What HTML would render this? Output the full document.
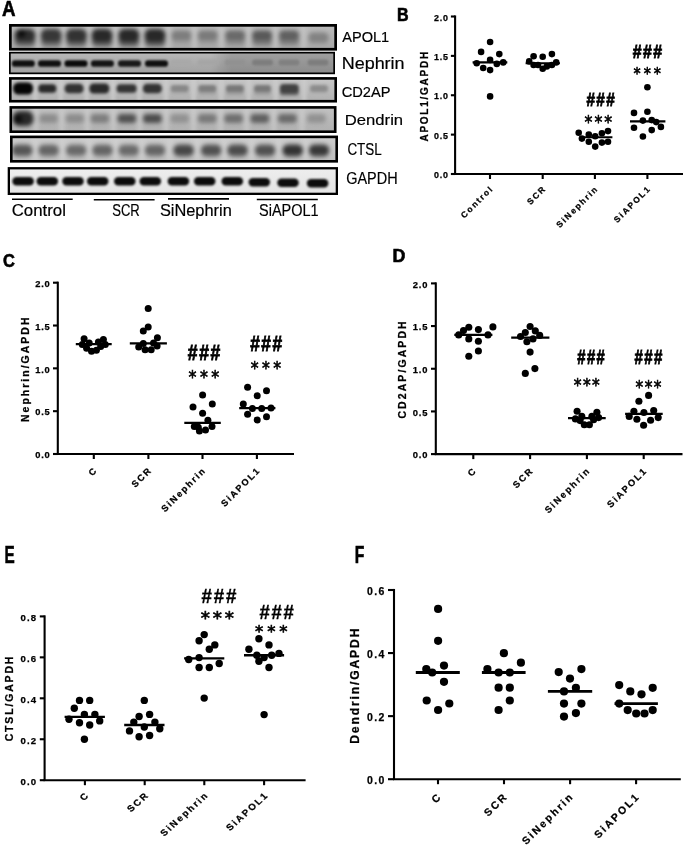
<!DOCTYPE html>
<html><head><meta charset="utf-8"><title>Figure</title>
<style>
html,body{margin:0;padding:0;background:#fff;}
svg{display:block;}
text{font-family:"Liberation Sans", Arial, sans-serif;fill:#000;}
.s{stroke:#000;stroke-width:0.25px;}
.l{stroke:#000;stroke-width:0.18px;}
.p{stroke:#000;stroke-width:0.6px;}
.h{font-family:'Liberation Sans',Arial,sans-serif;stroke:#000;stroke-width:0.85px;}
.a{font-family:'DejaVu Sans',sans-serif;stroke:#000;stroke-width:0.65px;}
</style></head><body>
<svg width="685" height="846" viewBox="0 0 685 846">
<rect width="685" height="846" fill="#fff"/>
<clipPath id="c1"><rect x="9" y="24" width="328" height="26.6"/></clipPath>
<filter id="fb1" x="-20%" y="-50%" width="140%" height="200%" color-interpolation-filters="sRGB"><feGaussianBlur stdDeviation="2.1"/></filter>
<linearGradient id="g1" x1="0" x2="0" y1="0" y2="1"><stop offset="0" stop-color="#bcbcbc"/><stop offset="1" stop-color="#a8a8a8"/></linearGradient>
<g clip-path="url(#c1)">
<rect x="9" y="24" width="328" height="26.6" fill="url(#g1)"/>
<g filter="url(#fb1)">
<rect x="35.6" y="24" width="5" height="26.6" fill="#c8c8c8" opacity="0.7"/>
<rect x="61.3" y="24" width="5" height="26.6" fill="#c8c8c8" opacity="0.7"/>
<rect x="86.7" y="24" width="5" height="26.6" fill="#c8c8c8" opacity="0.7"/>
<rect x="112.9" y="24" width="5" height="26.6" fill="#c8c8c8" opacity="0.7"/>
<rect x="139.4" y="24" width="5" height="26.6" fill="#c8c8c8" opacity="0.7"/>
<rect x="165.7" y="24" width="5" height="26.6" fill="#c8c8c8" opacity="0.7"/>
<rect x="192.05" y="24" width="5" height="26.6" fill="#c8c8c8" opacity="0.7"/>
<rect x="218.95" y="24" width="5" height="26.6" fill="#c8c8c8" opacity="0.7"/>
<rect x="246.15" y="24" width="5" height="26.6" fill="#c8c8c8" opacity="0.7"/>
<rect x="273.05" y="24" width="5" height="26.6" fill="#c8c8c8" opacity="0.7"/>
<rect x="301.25" y="24" width="5" height="26.6" fill="#c8c8c8" opacity="0.7"/>
<rect x="14.5" y="35.5" width="21" height="11" rx="5" fill="#646464"/>
<rect x="14.5" y="29" width="21" height="13" rx="5.91" fill="#2d2d2d"/>
<rect x="40.7" y="35.5" width="21" height="11" rx="5" fill="#6e6e6e"/>
<rect x="40.7" y="29" width="21" height="13" rx="5.91" fill="#373737"/>
<rect x="65.9" y="35.5" width="21" height="11" rx="5" fill="#696969"/>
<rect x="65.9" y="29" width="21" height="13" rx="5.91" fill="#323232"/>
<rect x="91.5" y="35.5" width="21" height="11" rx="5" fill="#5f5f5f"/>
<rect x="91.5" y="29" width="21" height="13" rx="5.91" fill="#282828"/>
<rect x="118.3" y="35.5" width="21" height="11" rx="5" fill="#5f5f5f"/>
<rect x="118.3" y="29" width="21" height="13" rx="5.91" fill="#282828"/>
<rect x="144.5" y="35.5" width="21" height="11" rx="5" fill="#5f5f5f"/>
<rect x="144.5" y="29" width="21" height="13" rx="5.91" fill="#282828"/>
<rect x="171.4" y="35.5" width="20" height="10" rx="4.55" fill="#a0a0a0"/>
<rect x="171.4" y="30.5" width="20" height="10" rx="4.55" fill="#7d7d7d"/>
<rect x="197.7" y="35.5" width="20" height="10" rx="4.55" fill="#9d9d9d"/>
<rect x="197.7" y="30.5" width="20" height="10" rx="4.55" fill="#7a7a7a"/>
<rect x="225.2" y="35.5" width="20" height="10" rx="4.55" fill="#8c8c8c"/>
<rect x="225.2" y="30.5" width="20" height="10" rx="4.55" fill="#696969"/>
<rect x="252.1" y="35.5" width="20" height="10" rx="4.55" fill="#7b7b7b"/>
<rect x="252.1" y="30.5" width="20" height="10" rx="4.55" fill="#585858"/>
<rect x="279" y="35.5" width="20" height="10" rx="4.55" fill="#828282"/>
<rect x="279" y="30.5" width="20" height="10" rx="4.55" fill="#5f5f5f"/>
<rect x="308.5" y="35.5" width="20" height="10" rx="4.55" fill="#a5a5a5"/>
<rect x="308.5" y="32.5" width="20" height="10" rx="4.55" fill="#828282"/>
<circle cx="21.5" cy="33.5" r="3.8" fill="#0a0a0a"/>
</g>
</g>
<rect x="10.35" y="25.35" width="325.3" height="23.9" fill="none" stroke="#000" stroke-width="2.7"/>
<linearGradient id="nh" x1="0" x2="1" y1="0" y2="0"><stop offset="0" stop-color="#000" stop-opacity="0"/><stop offset="0.62" stop-color="#000" stop-opacity="0"/><stop offset="0.68" stop-color="#000" stop-opacity="0.13"/><stop offset="1" stop-color="#000" stop-opacity="0.13"/></linearGradient>
<clipPath id="c2"><rect x="9" y="51.8" width="326" height="22.4"/></clipPath>
<filter id="fb2" x="-20%" y="-50%" width="140%" height="200%" color-interpolation-filters="sRGB"><feGaussianBlur stdDeviation="1.1"/></filter>
<linearGradient id="g2" x1="0" x2="0" y1="0" y2="1"><stop offset="0" stop-color="#b9b9b9"/><stop offset="1" stop-color="#a0a0a0"/></linearGradient>
<g clip-path="url(#c2)">
<rect x="9" y="51.8" width="326" height="22.4" fill="url(#g2)"/>
<g filter="url(#fb2)">
<rect x="9" y="51" width="326" height="23" fill="url(#nh)"/>
<rect x="11.8" y="60.35" width="23" height="6.5" rx="3.1" fill="#0f0f0f"/>
<rect x="38" y="60.35" width="23" height="6.5" rx="3.1" fill="#0f0f0f"/>
<rect x="64.5" y="60.35" width="23" height="6.5" rx="3.1" fill="#0a0a0a"/>
<rect x="90.9" y="60.35" width="23" height="6.5" rx="3.1" fill="#141414"/>
<rect x="118" y="60.35" width="23" height="6.5" rx="3.1" fill="#191919"/>
<rect x="145" y="60.35" width="23" height="6.5" rx="3.1" fill="#0f0f0f"/>
<rect x="170.5" y="59.5" width="21" height="6" rx="3" fill="#a8a8a8"/>
<rect x="197.5" y="59.5" width="21" height="6" rx="3" fill="#a5a5a5"/>
<rect x="224.5" y="59.5" width="21" height="6" rx="3" fill="#919191"/>
<rect x="252" y="59.5" width="21" height="6" rx="3" fill="#7d7d7d"/>
<rect x="278.5" y="59.5" width="21" height="6" rx="3" fill="#808080"/>
<rect x="307.5" y="59.5" width="21" height="6" rx="3" fill="#7d7d7d"/>
</g>
</g>
<rect x="9.85" y="52.65" width="324.3" height="20.7" fill="none" stroke="#000" stroke-width="1.7"/>
<clipPath id="c3"><rect x="9" y="77.1" width="328" height="25.4"/></clipPath>
<filter id="fb3" x="-20%" y="-50%" width="140%" height="200%" color-interpolation-filters="sRGB"><feGaussianBlur stdDeviation="1.5"/></filter>
<linearGradient id="g3" x1="0" x2="0" y1="0" y2="1"><stop offset="0" stop-color="#c8c8c8"/><stop offset="1" stop-color="#afafaf"/></linearGradient>
<g clip-path="url(#c3)">
<rect x="9" y="77.1" width="328" height="25.4" fill="url(#g3)"/>
<g filter="url(#fb3)">
<rect x="32.7" y="77.1" width="5" height="25.4" fill="#cdcdcd" opacity="0.7"/>
<rect x="58.2" y="77.1" width="5" height="25.4" fill="#cdcdcd" opacity="0.7"/>
<rect x="84.2" y="77.1" width="5" height="25.4" fill="#cdcdcd" opacity="0.7"/>
<rect x="110.45" y="77.1" width="5" height="25.4" fill="#cdcdcd" opacity="0.7"/>
<rect x="137" y="77.1" width="5" height="25.4" fill="#cdcdcd" opacity="0.7"/>
<rect x="163.55" y="77.1" width="5" height="25.4" fill="#cdcdcd" opacity="0.7"/>
<rect x="191" y="77.1" width="5" height="25.4" fill="#cdcdcd" opacity="0.7"/>
<rect x="218.6" y="77.1" width="5" height="25.4" fill="#cdcdcd" opacity="0.7"/>
<rect x="246.2" y="77.1" width="5" height="25.4" fill="#cdcdcd" opacity="0.7"/>
<rect x="273.4" y="77.1" width="5" height="25.4" fill="#cdcdcd" opacity="0.7"/>
<rect x="301.65" y="77.1" width="5" height="25.4" fill="#cdcdcd" opacity="0.7"/>
<rect x="13.1" y="82.5" width="20" height="12" rx="5.45" fill="#050505"/>
<rect x="38.3" y="84.25" width="18" height="8.5" rx="3.86" fill="#282828"/>
<rect x="64.6" y="83.75" width="19" height="9.5" rx="4.32" fill="#323232"/>
<rect x="89.3" y="83.5" width="20" height="10" rx="4.55" fill="#282828"/>
<rect x="116.6" y="84.25" width="20" height="8.5" rx="3.86" fill="#323232"/>
<rect x="142.9" y="83.75" width="19" height="9.5" rx="4.32" fill="#323232"/>
<rect x="170.7" y="88.5" width="18" height="7" rx="3.18" fill="#afafaf"/>
<rect x="170.7" y="85" width="18" height="7" rx="3.18" fill="#878787"/>
<rect x="198.3" y="88.5" width="18" height="7" rx="3.18" fill="#a5a5a5"/>
<rect x="198.3" y="85" width="18" height="7" rx="3.18" fill="#7d7d7d"/>
<rect x="225.9" y="88.5" width="18" height="7" rx="3.18" fill="#a0a0a0"/>
<rect x="225.9" y="85" width="18" height="7" rx="3.18" fill="#787878"/>
<rect x="254" y="88.5" width="17" height="7" rx="3.18" fill="#a0a0a0"/>
<rect x="254" y="85" width="17" height="7" rx="3.18" fill="#787878"/>
<rect x="279.8" y="88.5" width="19" height="7" rx="3.18" fill="#696969"/>
<rect x="279.8" y="84" width="19" height="9" rx="4.09" fill="#414141"/>
<rect x="310" y="88.5" width="18" height="7" rx="3.18" fill="#b4b4b4"/>
<rect x="310" y="85" width="18" height="7" rx="3.18" fill="#8c8c8c"/>
</g>
</g>
<rect x="10.3" y="78.4" width="325.4" height="22.8" fill="none" stroke="#000" stroke-width="2.6"/>
<clipPath id="c4"><rect x="9.5" y="106.1" width="327" height="26.9"/></clipPath>
<filter id="fb4" x="-20%" y="-50%" width="140%" height="200%" color-interpolation-filters="sRGB"><feGaussianBlur stdDeviation="1.9"/></filter>
<linearGradient id="g4" x1="0" x2="0" y1="0" y2="1"><stop offset="0" stop-color="#c3c3c3"/><stop offset="1" stop-color="#afafaf"/></linearGradient>
<g clip-path="url(#c4)">
<rect x="9.5" y="106.1" width="327" height="26.9" fill="url(#g4)"/>
<g filter="url(#fb4)">
<rect x="33.35" y="106.1" width="5" height="26.9" fill="#cdcdcd" opacity="0.7"/>
<rect x="59.25" y="106.1" width="5" height="26.9" fill="#cdcdcd" opacity="0.7"/>
<rect x="84.85" y="106.1" width="5" height="26.9" fill="#cdcdcd" opacity="0.7"/>
<rect x="110.85" y="106.1" width="5" height="26.9" fill="#cdcdcd" opacity="0.7"/>
<rect x="137.15" y="106.1" width="5" height="26.9" fill="#cdcdcd" opacity="0.7"/>
<rect x="163.55" y="106.1" width="5" height="26.9" fill="#cdcdcd" opacity="0.7"/>
<rect x="191" y="106.1" width="5" height="26.9" fill="#cdcdcd" opacity="0.7"/>
<rect x="217.95" y="106.1" width="5" height="26.9" fill="#cdcdcd" opacity="0.7"/>
<rect x="244.2" y="106.1" width="5" height="26.9" fill="#cdcdcd" opacity="0.7"/>
<rect x="271.1" y="106.1" width="5" height="26.9" fill="#cdcdcd" opacity="0.7"/>
<rect x="299.35" y="106.1" width="5" height="26.9" fill="#cdcdcd" opacity="0.7"/>
<rect x="12.6" y="111" width="21" height="15" rx="6.82" fill="#282828"/>
<circle cx="18" cy="119" r="4" fill="#0a0a0a"/>
<rect x="39.1" y="114" width="19" height="9" rx="4.09" fill="#8c8c8c"/>
<rect x="65.4" y="114" width="19" height="9" rx="4.09" fill="#8c8c8c"/>
<rect x="90.3" y="114" width="19" height="9" rx="4.09" fill="#7d7d7d"/>
<rect x="117.4" y="114" width="19" height="9" rx="4.09" fill="#505050"/>
<rect x="142.9" y="114" width="19" height="9" rx="4.09" fill="#4b4b4b"/>
<rect x="170.2" y="114" width="19" height="9" rx="4.09" fill="#919191"/>
<rect x="197.8" y="114" width="19" height="9" rx="4.09" fill="#787878"/>
<rect x="224.1" y="114" width="19" height="9" rx="4.09" fill="#6e6e6e"/>
<rect x="250.3" y="114" width="19" height="9" rx="4.09" fill="#5f5f5f"/>
<rect x="277.9" y="114" width="19" height="9" rx="4.09" fill="#696969"/>
<rect x="306.8" y="114" width="19" height="9" rx="4.09" fill="#919191"/>
</g>
</g>
<rect x="10.8" y="107.4" width="324.4" height="24.3" fill="none" stroke="#000" stroke-width="2.6"/>
<clipPath id="c5"><rect x="10" y="135.6" width="328" height="27"/></clipPath>
<filter id="fb5" x="-20%" y="-50%" width="140%" height="200%" color-interpolation-filters="sRGB"><feGaussianBlur stdDeviation="2.0"/></filter>
<linearGradient id="g5" x1="0" x2="0" y1="0" y2="1"><stop offset="0" stop-color="#cdcdcd"/><stop offset="1" stop-color="#bebebe"/></linearGradient>
<g clip-path="url(#c5)">
<rect x="10" y="135.6" width="328" height="27" fill="url(#g5)"/>
<g filter="url(#fb5)">
<rect x="32.95" y="135.6" width="5" height="27" fill="#d2d2d2" opacity="0.7"/>
<rect x="59.9" y="135.6" width="5" height="27" fill="#d2d2d2" opacity="0.7"/>
<rect x="86.85" y="135.6" width="5" height="27" fill="#d2d2d2" opacity="0.7"/>
<rect x="113.1" y="135.6" width="5" height="27" fill="#d2d2d2" opacity="0.7"/>
<rect x="139.35" y="135.6" width="5" height="27" fill="#d2d2d2" opacity="0.7"/>
<rect x="166.8" y="135.6" width="5" height="27" fill="#d2d2d2" opacity="0.7"/>
<rect x="194.9" y="135.6" width="5" height="27" fill="#d2d2d2" opacity="0.7"/>
<rect x="221.85" y="135.6" width="5" height="27" fill="#d2d2d2" opacity="0.7"/>
<rect x="248.8" y="135.6" width="5" height="27" fill="#d2d2d2" opacity="0.7"/>
<rect x="276.4" y="135.6" width="5" height="27" fill="#d2d2d2" opacity="0.7"/>
<rect x="303.35" y="135.6" width="5" height="27" fill="#d2d2d2" opacity="0.7"/>
<rect x="12.3" y="144" width="20" height="13" rx="5.91" fill="#828282"/>
<rect x="12.3" y="145.8" width="20" height="9" rx="4.09" fill="#555555"/>
<rect x="38.6" y="144" width="20" height="13" rx="5.91" fill="#919191"/>
<rect x="38.6" y="145.8" width="20" height="9" rx="4.09" fill="#646464"/>
<rect x="66.2" y="144" width="20" height="13" rx="5.91" fill="#969696"/>
<rect x="66.2" y="145.8" width="20" height="9" rx="4.09" fill="#696969"/>
<rect x="92.5" y="144" width="20" height="13" rx="5.91" fill="#919191"/>
<rect x="92.5" y="145.8" width="20" height="9" rx="4.09" fill="#646464"/>
<rect x="118.7" y="144" width="20" height="13" rx="5.91" fill="#969696"/>
<rect x="118.7" y="145.8" width="20" height="9" rx="4.09" fill="#696969"/>
<rect x="145" y="144" width="20" height="13" rx="5.91" fill="#919191"/>
<rect x="145" y="145.8" width="20" height="9" rx="4.09" fill="#646464"/>
<rect x="173.6" y="144" width="20" height="13" rx="5.91" fill="#737373"/>
<rect x="173.6" y="145.8" width="20" height="9" rx="4.09" fill="#464646"/>
<rect x="201.2" y="144" width="20" height="13" rx="5.91" fill="#7d7d7d"/>
<rect x="201.2" y="145.8" width="20" height="9" rx="4.09" fill="#505050"/>
<rect x="227.5" y="144" width="20" height="13" rx="5.91" fill="#787878"/>
<rect x="227.5" y="145.8" width="20" height="9" rx="4.09" fill="#4b4b4b"/>
<rect x="255.1" y="144" width="20" height="13" rx="5.91" fill="#7d7d7d"/>
<rect x="255.1" y="145.8" width="20" height="9" rx="4.09" fill="#505050"/>
<rect x="282.7" y="144" width="20" height="13" rx="5.91" fill="#5f5f5f"/>
<rect x="282.7" y="145.8" width="20" height="9" rx="4.09" fill="#323232"/>
<rect x="309" y="144" width="20" height="13" rx="5.91" fill="#646464"/>
<rect x="309" y="145.8" width="20" height="9" rx="4.09" fill="#373737"/>
</g>
</g>
<rect x="11.3" y="136.9" width="325.4" height="24.4" fill="none" stroke="#000" stroke-width="2.6"/>
<clipPath id="c6"><rect x="7.7" y="167.1" width="330.3" height="27.9"/></clipPath>
<filter id="fb6" x="-20%" y="-50%" width="140%" height="200%" color-interpolation-filters="sRGB"><feGaussianBlur stdDeviation="1.0"/></filter>
<linearGradient id="g6" x1="0" x2="0" y1="0" y2="1"><stop offset="0" stop-color="#eeeeee"/><stop offset="1" stop-color="#e4e4e4"/></linearGradient>
<g clip-path="url(#c6)">
<rect x="7.7" y="167.1" width="330.3" height="27.9" fill="url(#g6)"/>
<g filter="url(#fb6)">
<rect x="12.35" y="177" width="21.5" height="8.6" rx="4.2" fill="#0c0c0c"/>
<rect x="36.55" y="177" width="21.5" height="8.6" rx="4.2" fill="#0c0c0c"/>
<rect x="62.25" y="177" width="21.5" height="8.6" rx="4.2" fill="#0c0c0c"/>
<rect x="86.95" y="177" width="21.5" height="8.6" rx="4.2" fill="#0c0c0c"/>
<rect x="114.05" y="177" width="21.5" height="8.6" rx="4.2" fill="#0c0c0c"/>
<rect x="139.55" y="177" width="21.5" height="8.6" rx="4.2" fill="#0c0c0c"/>
<rect x="167.65" y="177" width="21.5" height="8.6" rx="4.2" fill="#0c0c0c"/>
<rect x="193.95" y="177" width="21.5" height="8.6" rx="4.2" fill="#0c0c0c"/>
<rect x="221.55" y="177" width="21.5" height="8.6" rx="4.2" fill="#0c0c0c"/>
<rect x="248.55" y="177.9" width="21.5" height="8.6" rx="4.2" fill="#0c0c0c"/>
<rect x="277.25" y="178.5" width="21.5" height="8.6" rx="4.2" fill="#0c0c0c"/>
<rect x="306.85" y="179" width="21.5" height="8.6" rx="4.2" fill="#0c0c0c"/>
</g>
</g>
<rect x="8.85" y="168.25" width="328" height="25.6" fill="none" stroke="#000" stroke-width="2.3"/>
<text x="342.2" y="42.4" font-size="15" textLength="47" lengthAdjust="spacingAndGlyphs" class="l">APOL1</text>
<text x="341.7" y="69" font-size="16" textLength="62.9" lengthAdjust="spacingAndGlyphs" class="l">Nephrin</text>
<text x="341.7" y="96.5" font-size="14.5" textLength="48.9" lengthAdjust="spacingAndGlyphs" class="l">CD2AP</text>
<text x="344.8" y="125" font-size="15.5" textLength="58.3" lengthAdjust="spacingAndGlyphs" class="l">Dendrin</text>
<text x="347.4" y="155" font-size="16.5" textLength="34.4" lengthAdjust="spacingAndGlyphs" class="l">CTSL</text>
<text x="346.2" y="184.3" font-size="16.3" textLength="51.4" lengthAdjust="spacingAndGlyphs" class="l">GAPDH</text>
<line x1="12" x2="72.7" y1="199.3" y2="199.3" stroke="#000" stroke-width="1.6"/>
<line x1="93.8" x2="154.6" y1="199.7" y2="199.7" stroke="#000" stroke-width="1.6"/>
<line x1="168" x2="229" y1="198.9" y2="198.9" stroke="#000" stroke-width="1.6"/>
<line x1="256.8" x2="317.8" y1="199.5" y2="199.5" stroke="#000" stroke-width="1.6"/>
<text x="11.7" y="216.3" font-size="16.5" textLength="54.3" lengthAdjust="spacingAndGlyphs" class="l">Control</text>
<text x="112.2" y="216.3" font-size="16.5" textLength="27.6" lengthAdjust="spacingAndGlyphs" class="l">SCR</text>
<text x="159.9" y="216.4" font-size="16.5" textLength="71.9" lengthAdjust="spacingAndGlyphs" class="l">SiNephrin</text>
<text x="259" y="216.4" font-size="16.5" textLength="59.6" lengthAdjust="spacingAndGlyphs" class="l">SiAPOL1</text>
<text x="2" y="15.7" font-size="21.8" font-weight="bold" textLength="13.5" lengthAdjust="spacingAndGlyphs" class="p">A</text>
<text x="397" y="21" font-size="17.5" font-weight="bold" textLength="11.6" lengthAdjust="spacingAndGlyphs" class="p">B</text>
<text x="3" y="266.8" font-size="18" font-weight="bold" textLength="11.9" lengthAdjust="spacingAndGlyphs" class="p">C</text>
<text x="392.4" y="261.8" font-size="18.5" font-weight="bold" textLength="12.9" lengthAdjust="spacingAndGlyphs" class="p">D</text>
<text x="4.6" y="563" font-size="23.2" font-weight="bold" textLength="10.2" lengthAdjust="spacingAndGlyphs" class="p">E</text>
<text x="354.8" y="563" font-size="23.2" font-weight="bold" textLength="9.6" lengthAdjust="spacingAndGlyphs" class="p">F</text>
<line x1="455.1" y1="15.45" x2="455.1" y2="174" stroke="#000" stroke-width="2.1"/>
<line x1="454.05" y1="174" x2="683" y2="174" stroke="#000" stroke-width="2.1"/>
<line x1="450.9" y1="174" x2="455.1" y2="174" stroke="#000" stroke-width="2.1"/>
<text x="434" y="178.1" font-size="8.9" font-weight="bold" textLength="14" lengthAdjust="spacing" class="s">0.0</text>
<line x1="450.9" y1="134.62" x2="455.1" y2="134.62" stroke="#000" stroke-width="2.1"/>
<text x="434" y="138.72" font-size="8.9" font-weight="bold" textLength="14" lengthAdjust="spacing" class="s">0.5</text>
<line x1="450.9" y1="95.25" x2="455.1" y2="95.25" stroke="#000" stroke-width="2.1"/>
<text x="434" y="99.35" font-size="8.9" font-weight="bold" textLength="14" lengthAdjust="spacing" class="s">1.0</text>
<line x1="450.9" y1="55.88" x2="455.1" y2="55.88" stroke="#000" stroke-width="2.1"/>
<text x="434" y="59.98" font-size="8.9" font-weight="bold" textLength="14" lengthAdjust="spacing" class="s">1.5</text>
<line x1="450.9" y1="16.5" x2="455.1" y2="16.5" stroke="#000" stroke-width="2.1"/>
<text x="434" y="20.6" font-size="8.9" font-weight="bold" textLength="14" lengthAdjust="spacing" class="s">2.0</text>
<line x1="490" y1="174" x2="490" y2="179" stroke="#000" stroke-width="2.1"/>
<text transform="translate(494.1,189) rotate(-45)" font-size="8.5" font-weight="bold" text-anchor="end" letter-spacing="1.7" class="s">Control</text>
<line x1="542.7" y1="174" x2="542.7" y2="179" stroke="#000" stroke-width="2.1"/>
<text transform="translate(546.8,189) rotate(-45)" font-size="8.5" font-weight="bold" text-anchor="end" letter-spacing="1.7" class="s">SCR</text>
<line x1="594.9" y1="174" x2="594.9" y2="179" stroke="#000" stroke-width="2.1"/>
<text transform="translate(599,189) rotate(-45)" font-size="8.5" font-weight="bold" text-anchor="end" letter-spacing="1.7" class="s">SiNephrin</text>
<line x1="647.4" y1="174" x2="647.4" y2="179" stroke="#000" stroke-width="2.1"/>
<text transform="translate(651.5,189) rotate(-45)" font-size="8.5" font-weight="bold" text-anchor="end" letter-spacing="1.7" class="s">SiAPOL1</text>
<text transform="translate(427.5,141.6) rotate(-90)" font-size="10" font-weight="bold" textLength="89.8" lengthAdjust="spacing" class="s">APOL1/GAPDH</text>
<line x1="472.6" x2="507.3" y1="62.4" y2="62.4" stroke="#000" stroke-width="2.1"/>
<line x1="525.6" x2="559.9" y1="63.3" y2="63.3" stroke="#000" stroke-width="2.1"/>
<line x1="579.5" x2="612.4" y1="137.3" y2="137.3" stroke="#000" stroke-width="2.1"/>
<line x1="630" x2="665.4" y1="121.4" y2="121.4" stroke="#000" stroke-width="2.1"/>
<circle cx="490.1" cy="42" r="3.3"/>
<circle cx="481.1" cy="51.9" r="3.3"/>
<circle cx="499.3" cy="54.1" r="3.3"/>
<circle cx="490.1" cy="59.9" r="3.3"/>
<circle cx="476.7" cy="63.3" r="3.3"/>
<circle cx="496.8" cy="63.9" r="3.3"/>
<circle cx="503.2" cy="62.4" r="3.3"/>
<circle cx="483.2" cy="68" r="3.3"/>
<circle cx="490.1" cy="70.1" r="3.3"/>
<circle cx="490.1" cy="96.4" r="3.3"/>
<circle cx="533.6" cy="56.3" r="3.3"/>
<circle cx="542.7" cy="56.7" r="3.3"/>
<circle cx="551.9" cy="54.1" r="3.3"/>
<circle cx="529.2" cy="61.4" r="3.3"/>
<circle cx="533.6" cy="65" r="3.3"/>
<circle cx="538" cy="65" r="3.3"/>
<circle cx="542.7" cy="68.7" r="3.3"/>
<circle cx="546.8" cy="66.5" r="3.3"/>
<circle cx="551.9" cy="65" r="3.3"/>
<circle cx="556.2" cy="62.4" r="3.3"/>
<circle cx="578.7" cy="132.7" r="3.3"/>
<circle cx="581.9" cy="138.6" r="3.3"/>
<circle cx="588.8" cy="134.6" r="3.3"/>
<circle cx="588.8" cy="141.8" r="3.3"/>
<circle cx="595.2" cy="136.2" r="3.3"/>
<circle cx="595.2" cy="146.6" r="3.3"/>
<circle cx="601.9" cy="133.3" r="3.3"/>
<circle cx="601.9" cy="142.6" r="3.3"/>
<circle cx="608" cy="131.1" r="3.3"/>
<circle cx="608" cy="141.8" r="3.3"/>
<circle cx="647.4" cy="87.2" r="3.3"/>
<circle cx="634" cy="112.9" r="3.3"/>
<circle cx="647.4" cy="111.8" r="3.3"/>
<circle cx="642.9" cy="120.6" r="3.3"/>
<circle cx="651.7" cy="120.1" r="3.3"/>
<circle cx="656.2" cy="122.1" r="3.3"/>
<circle cx="634" cy="127.7" r="3.3"/>
<circle cx="651.7" cy="130.1" r="3.3"/>
<circle cx="660.9" cy="126.9" r="3.3"/>
<circle cx="642.9" cy="136.5" r="3.3"/>
<text transform="translate(586.39,105.65) scale(0.812,1)" font-weight="bold" font-size="18.82" letter-spacing="1.75" class="h">###</text>
<text transform="translate(584.53,128.16) scale(0.880,1)" font-size="17.78" letter-spacing="2.31" class="a">***</text>
<text transform="translate(632.68,58.15) scale(0.859,1)" font-weight="bold" font-size="18.38" letter-spacing="1.71" class="h">###</text>
<text transform="translate(633.57,78.5) scale(0.880,1)" font-size="16.22" letter-spacing="3.38" class="a">***</text>
<line x1="57.8" y1="281.65" x2="57.8" y2="454" stroke="#000" stroke-width="2.1"/>
<line x1="56.75" y1="454" x2="294" y2="454" stroke="#000" stroke-width="2.1"/>
<line x1="53" y1="454" x2="57.8" y2="454" stroke="#000" stroke-width="2.1"/>
<text x="35.3" y="458.25" font-size="9.3" font-weight="bold" textLength="14.4" lengthAdjust="spacing" class="s">0.0</text>
<line x1="53" y1="411.18" x2="57.8" y2="411.18" stroke="#000" stroke-width="2.1"/>
<text x="35.3" y="415.43" font-size="9.3" font-weight="bold" textLength="14.4" lengthAdjust="spacing" class="s">0.5</text>
<line x1="53" y1="368.35" x2="57.8" y2="368.35" stroke="#000" stroke-width="2.1"/>
<text x="35.3" y="372.6" font-size="9.3" font-weight="bold" textLength="14.4" lengthAdjust="spacing" class="s">1.0</text>
<line x1="53" y1="325.52" x2="57.8" y2="325.52" stroke="#000" stroke-width="2.1"/>
<text x="35.3" y="329.77" font-size="9.3" font-weight="bold" textLength="14.4" lengthAdjust="spacing" class="s">1.5</text>
<line x1="53" y1="282.7" x2="57.8" y2="282.7" stroke="#000" stroke-width="2.1"/>
<text x="35.3" y="286.95" font-size="9.3" font-weight="bold" textLength="14.4" lengthAdjust="spacing" class="s">2.0</text>
<line x1="93.8" y1="454" x2="93.8" y2="459" stroke="#000" stroke-width="2.1"/>
<text transform="translate(98.1,470.7) rotate(-45)" font-size="9.1" font-weight="bold" text-anchor="end" letter-spacing="1.8" class="s">C</text>
<line x1="148.4" y1="454" x2="148.4" y2="459" stroke="#000" stroke-width="2.1"/>
<text transform="translate(152.7,470.7) rotate(-45)" font-size="9.1" font-weight="bold" text-anchor="end" letter-spacing="1.8" class="s">SCR</text>
<line x1="202.5" y1="454" x2="202.5" y2="459" stroke="#000" stroke-width="2.1"/>
<text transform="translate(206.8,470.7) rotate(-45)" font-size="9.1" font-weight="bold" text-anchor="end" letter-spacing="1.8" class="s">SiNephrin</text>
<line x1="256.9" y1="454" x2="256.9" y2="459" stroke="#000" stroke-width="2.1"/>
<text transform="translate(261.2,470.7) rotate(-45)" font-size="9.1" font-weight="bold" text-anchor="end" letter-spacing="1.8" class="s">SiAPOL1</text>
<text transform="translate(28.6,422) rotate(-90)" font-size="10.5" font-weight="bold" textLength="104.5" lengthAdjust="spacing" class="s">Nephrin/GAPDH</text>
<line x1="75.8" x2="111.7" y1="344.1" y2="344.1" stroke="#000" stroke-width="2.3"/>
<line x1="129.8" x2="166.9" y1="343.3" y2="343.3" stroke="#000" stroke-width="2.3"/>
<line x1="184.3" x2="220.8" y1="422.8" y2="422.8" stroke="#000" stroke-width="2.3"/>
<line x1="239.2" x2="275.4" y1="408.2" y2="408.2" stroke="#000" stroke-width="2.3"/>
<circle cx="84.1" cy="338.7" r="3.5"/>
<circle cx="82.3" cy="344.4" r="3.5"/>
<circle cx="89.2" cy="342.9" r="3.5"/>
<circle cx="86.6" cy="348.2" r="3.5"/>
<circle cx="91.5" cy="351.3" r="3.5"/>
<circle cx="96.4" cy="350.2" r="3.5"/>
<circle cx="98.4" cy="342.1" r="3.5"/>
<circle cx="100.7" cy="346.4" r="3.5"/>
<circle cx="103.4" cy="339.4" r="3.5"/>
<circle cx="105.3" cy="344.4" r="3.5"/>
<circle cx="148.2" cy="308.4" r="3.5"/>
<circle cx="148.2" cy="327.1" r="3.5"/>
<circle cx="143.3" cy="331.1" r="3.5"/>
<circle cx="157.4" cy="337.8" r="3.5"/>
<circle cx="143.3" cy="343.6" r="3.5"/>
<circle cx="138.7" cy="347" r="3.5"/>
<circle cx="153.5" cy="342.9" r="3.5"/>
<circle cx="157.1" cy="346" r="3.5"/>
<circle cx="145.1" cy="349.8" r="3.5"/>
<circle cx="151.2" cy="349.8" r="3.5"/>
<circle cx="202.6" cy="395" r="3.5"/>
<circle cx="193" cy="407.1" r="3.5"/>
<circle cx="212.3" cy="403.9" r="3.5"/>
<circle cx="202.6" cy="413.2" r="3.5"/>
<circle cx="207.9" cy="420.3" r="3.5"/>
<circle cx="194.3" cy="426.4" r="3.5"/>
<circle cx="198.3" cy="427.2" r="3.5"/>
<circle cx="199.4" cy="430.9" r="3.5"/>
<circle cx="205.5" cy="429.9" r="3.5"/>
<circle cx="212" cy="426.4" r="3.5"/>
<circle cx="247.6" cy="387.3" r="3.5"/>
<circle cx="266.5" cy="390.7" r="3.5"/>
<circle cx="257.2" cy="395.8" r="3.5"/>
<circle cx="243.3" cy="403.9" r="3.5"/>
<circle cx="252.4" cy="408.4" r="3.5"/>
<circle cx="261.7" cy="408.4" r="3.5"/>
<circle cx="271" cy="407.9" r="3.5"/>
<circle cx="247.6" cy="414.3" r="3.5"/>
<circle cx="266.5" cy="416.7" r="3.5"/>
<circle cx="257.2" cy="419.9" r="3.5"/>
<text transform="translate(187.85,360.15) scale(0.820,1)" font-weight="bold" font-size="21.32" letter-spacing="1.99" class="h">###</text>
<text transform="translate(188.62,383.42) scale(0.880,1)" font-size="18" letter-spacing="3.86" class="a">***</text>
<text transform="translate(250.16,351.35) scale(0.802,1)" font-weight="bold" font-size="21.47" letter-spacing="2" class="h">###</text>
<text transform="translate(250.83,374.46) scale(0.880,1)" font-size="17.78" letter-spacing="3.9" class="a">***</text>
<line x1="435.8" y1="282.35" x2="435.8" y2="454.1" stroke="#000" stroke-width="2.1"/>
<line x1="434.75" y1="454.1" x2="682.5" y2="454.1" stroke="#000" stroke-width="2.1"/>
<line x1="431" y1="454.1" x2="435.8" y2="454.1" stroke="#000" stroke-width="2.1"/>
<text x="412.8" y="458.4" font-size="9.4" font-weight="bold" textLength="14.6" lengthAdjust="spacing" class="s">0.0</text>
<line x1="431" y1="411.43" x2="435.8" y2="411.43" stroke="#000" stroke-width="2.1"/>
<text x="412.8" y="415.73" font-size="9.4" font-weight="bold" textLength="14.6" lengthAdjust="spacing" class="s">0.5</text>
<line x1="431" y1="368.75" x2="435.8" y2="368.75" stroke="#000" stroke-width="2.1"/>
<text x="412.8" y="373.05" font-size="9.4" font-weight="bold" textLength="14.6" lengthAdjust="spacing" class="s">1.0</text>
<line x1="431" y1="326.07" x2="435.8" y2="326.07" stroke="#000" stroke-width="2.1"/>
<text x="412.8" y="330.38" font-size="9.4" font-weight="bold" textLength="14.6" lengthAdjust="spacing" class="s">1.5</text>
<line x1="431" y1="283.4" x2="435.8" y2="283.4" stroke="#000" stroke-width="2.1"/>
<text x="412.8" y="287.7" font-size="9.4" font-weight="bold" textLength="14.6" lengthAdjust="spacing" class="s">2.0</text>
<line x1="473.3" y1="454.1" x2="473.3" y2="459.1" stroke="#000" stroke-width="2.1"/>
<text transform="translate(477.6,471) rotate(-45)" font-size="9.3" font-weight="bold" text-anchor="end" letter-spacing="1.85" class="s">C</text>
<line x1="530.1" y1="454.1" x2="530.1" y2="459.1" stroke="#000" stroke-width="2.1"/>
<text transform="translate(534.4,471) rotate(-45)" font-size="9.3" font-weight="bold" text-anchor="end" letter-spacing="1.85" class="s">SCR</text>
<line x1="586.9" y1="454.1" x2="586.9" y2="459.1" stroke="#000" stroke-width="2.1"/>
<text transform="translate(591.2,471) rotate(-45)" font-size="9.3" font-weight="bold" text-anchor="end" letter-spacing="1.85" class="s">SiNephrin</text>
<line x1="643.7" y1="454.1" x2="643.7" y2="459.1" stroke="#000" stroke-width="2.1"/>
<text transform="translate(648,471) rotate(-45)" font-size="9.3" font-weight="bold" text-anchor="end" letter-spacing="1.85" class="s">SiAPOL1</text>
<text transform="translate(405.6,418.6) rotate(-90)" font-size="10.5" font-weight="bold" textLength="97.3" lengthAdjust="spacing" class="s">CD2AP/GAPDH</text>
<line x1="454.3" x2="492.4" y1="334.9" y2="334.9" stroke="#000" stroke-width="2.3"/>
<line x1="511.2" x2="549.4" y1="337.6" y2="337.6" stroke="#000" stroke-width="2.3"/>
<line x1="568" x2="605.7" y1="418.1" y2="418.1" stroke="#000" stroke-width="2.3"/>
<line x1="625.1" x2="662.7" y1="413.9" y2="413.9" stroke="#000" stroke-width="2.3"/>
<circle cx="468.8" cy="327.3" r="3.55"/>
<circle cx="463.5" cy="330.6" r="3.55"/>
<circle cx="478.4" cy="329.6" r="3.55"/>
<circle cx="492.9" cy="326.9" r="3.55"/>
<circle cx="458.7" cy="334.9" r="3.55"/>
<circle cx="488" cy="334.9" r="3.55"/>
<circle cx="468.8" cy="338.9" r="3.55"/>
<circle cx="478.4" cy="341.3" r="3.55"/>
<circle cx="478.4" cy="351" r="3.55"/>
<circle cx="468.8" cy="356.3" r="3.55"/>
<circle cx="530.1" cy="326.5" r="3.55"/>
<circle cx="525.3" cy="332.5" r="3.55"/>
<circle cx="535.3" cy="330.9" r="3.55"/>
<circle cx="520.5" cy="336.5" r="3.55"/>
<circle cx="539.7" cy="335.4" r="3.55"/>
<circle cx="526.9" cy="341.8" r="3.55"/>
<circle cx="533" cy="338.9" r="3.55"/>
<circle cx="530.1" cy="352.1" r="3.55"/>
<circle cx="534.9" cy="368.6" r="3.55"/>
<circle cx="525.3" cy="373.4" r="3.55"/>
<circle cx="577.1" cy="411.3" r="3.55"/>
<circle cx="596.9" cy="412.2" r="3.55"/>
<circle cx="581.8" cy="416.4" r="3.55"/>
<circle cx="591.9" cy="416.4" r="3.55"/>
<circle cx="575.4" cy="418.9" r="3.55"/>
<circle cx="598.6" cy="417.6" r="3.55"/>
<circle cx="580.1" cy="420.6" r="3.55"/>
<circle cx="593.6" cy="419.7" r="3.55"/>
<circle cx="584.3" cy="424.8" r="3.55"/>
<circle cx="589.4" cy="424.8" r="3.55"/>
<circle cx="648.6" cy="395.4" r="3.55"/>
<circle cx="638.9" cy="401.3" r="3.55"/>
<circle cx="633.9" cy="411.3" r="3.55"/>
<circle cx="643.9" cy="412.5" r="3.55"/>
<circle cx="653.7" cy="410.5" r="3.55"/>
<circle cx="629.2" cy="416.4" r="3.55"/>
<circle cx="658.2" cy="417.6" r="3.55"/>
<circle cx="636.9" cy="419.2" r="3.55"/>
<circle cx="650.6" cy="420.2" r="3.55"/>
<circle cx="643.6" cy="425.3" r="3.55"/>
<text transform="translate(577.3,364.45) scale(0.734,1)" font-weight="bold" font-size="20.15" letter-spacing="1.88" class="h">###</text>
<text transform="translate(573.84,390.79) scale(0.880,1)" font-size="17.56" letter-spacing="1.62" class="a">***</text>
<text transform="translate(634.4,364.45) scale(0.748,1)" font-weight="bold" font-size="20.15" letter-spacing="1.88" class="h">###</text>
<text transform="translate(635.44,392.83) scale(0.880,1)" font-size="17.33" letter-spacing="1.78" class="a">***</text>
<line x1="44.6" y1="615.35" x2="44.6" y2="780.2" stroke="#000" stroke-width="2.1"/>
<line x1="43.55" y1="780.2" x2="305.6" y2="780.2" stroke="#000" stroke-width="2.1"/>
<line x1="39.8" y1="780.2" x2="44.6" y2="780.2" stroke="#000" stroke-width="2.1"/>
<text x="20.5" y="784.55" font-size="9.6" font-weight="bold" textLength="15.5" lengthAdjust="spacing" class="s">0.0</text>
<line x1="39.8" y1="739.25" x2="44.6" y2="739.25" stroke="#000" stroke-width="2.1"/>
<text x="20.5" y="743.6" font-size="9.6" font-weight="bold" textLength="15.5" lengthAdjust="spacing" class="s">0.2</text>
<line x1="39.8" y1="698.3" x2="44.6" y2="698.3" stroke="#000" stroke-width="2.1"/>
<text x="20.5" y="702.65" font-size="9.6" font-weight="bold" textLength="15.5" lengthAdjust="spacing" class="s">0.4</text>
<line x1="39.8" y1="657.35" x2="44.6" y2="657.35" stroke="#000" stroke-width="2.1"/>
<text x="20.5" y="661.7" font-size="9.6" font-weight="bold" textLength="15.5" lengthAdjust="spacing" class="s">0.6</text>
<line x1="39.8" y1="616.4" x2="44.6" y2="616.4" stroke="#000" stroke-width="2.1"/>
<text x="20.5" y="620.75" font-size="9.6" font-weight="bold" textLength="15.5" lengthAdjust="spacing" class="s">0.8</text>
<line x1="84.9" y1="780.2" x2="84.9" y2="785.2" stroke="#000" stroke-width="2.1"/>
<text transform="translate(90.1,795.5) scale(1.1,1) rotate(-45)" font-size="8.9" font-weight="bold" text-anchor="end" letter-spacing="1.8" class="s">C</text>
<line x1="144.7" y1="780.2" x2="144.7" y2="785.2" stroke="#000" stroke-width="2.1"/>
<text transform="translate(149.9,795.5) scale(1.1,1) rotate(-45)" font-size="8.9" font-weight="bold" text-anchor="end" letter-spacing="1.8" class="s">SCR</text>
<line x1="204.3" y1="780.2" x2="204.3" y2="785.2" stroke="#000" stroke-width="2.1"/>
<text transform="translate(209.5,795.5) scale(1.1,1) rotate(-45)" font-size="8.9" font-weight="bold" text-anchor="end" letter-spacing="1.8" class="s">SiNephrin</text>
<line x1="264.1" y1="780.2" x2="264.1" y2="785.2" stroke="#000" stroke-width="2.1"/>
<text transform="translate(269.3,795.5) scale(1.1,1) rotate(-45)" font-size="8.9" font-weight="bold" text-anchor="end" letter-spacing="1.8" class="s">SiAPOL1</text>
<text transform="translate(13.2,741.3) rotate(-90)" font-size="10.5" font-weight="bold" textLength="84.7" lengthAdjust="spacing" class="s">CTSL/GAPDH</text>
<line x1="64.6" x2="104.9" y1="716.9" y2="716.9" stroke="#000" stroke-width="2.4"/>
<line x1="124.2" x2="164.5" y1="725" y2="725" stroke="#000" stroke-width="2.4"/>
<line x1="184.1" x2="224.3" y1="658.4" y2="658.4" stroke="#000" stroke-width="2.4"/>
<line x1="244" x2="284.1" y1="655.3" y2="655.3" stroke="#000" stroke-width="2.4"/>
<circle cx="79.5" cy="700.4" r="3.7"/>
<circle cx="89.7" cy="700.4" r="3.7"/>
<circle cx="74.3" cy="708.3" r="3.7"/>
<circle cx="84.4" cy="714.4" r="3.7"/>
<circle cx="94.9" cy="714.4" r="3.7"/>
<circle cx="69" cy="719.2" r="3.7"/>
<circle cx="79.5" cy="722.7" r="3.7"/>
<circle cx="89.7" cy="725" r="3.7"/>
<circle cx="99.7" cy="720.9" r="3.7"/>
<circle cx="84.4" cy="739.3" r="3.7"/>
<circle cx="144.3" cy="700.4" r="3.7"/>
<circle cx="139.1" cy="716.5" r="3.7"/>
<circle cx="149.6" cy="714.4" r="3.7"/>
<circle cx="133.8" cy="722.1" r="3.7"/>
<circle cx="154.9" cy="722.1" r="3.7"/>
<circle cx="144.3" cy="727" r="3.7"/>
<circle cx="129.5" cy="730.9" r="3.7"/>
<circle cx="159.8" cy="728.8" r="3.7"/>
<circle cx="139.1" cy="736.7" r="3.7"/>
<circle cx="149.6" cy="735.5" r="3.7"/>
<circle cx="204.2" cy="634.6" r="3.7"/>
<circle cx="199.1" cy="640.7" r="3.7"/>
<circle cx="214.8" cy="644.9" r="3.7"/>
<circle cx="209.3" cy="649.2" r="3.7"/>
<circle cx="188.7" cy="659.5" r="3.7"/>
<circle cx="199.1" cy="657.6" r="3.7"/>
<circle cx="219.2" cy="663.5" r="3.7"/>
<circle cx="199.1" cy="667.5" r="3.7"/>
<circle cx="209.3" cy="667.5" r="3.7"/>
<circle cx="204.2" cy="698.1" r="3.7"/>
<circle cx="258.9" cy="638.8" r="3.7"/>
<circle cx="269" cy="644.9" r="3.7"/>
<circle cx="248.9" cy="649.2" r="3.7"/>
<circle cx="279" cy="653.4" r="3.7"/>
<circle cx="256.8" cy="655.3" r="3.7"/>
<circle cx="271.7" cy="655.3" r="3.7"/>
<circle cx="264.1" cy="657.6" r="3.7"/>
<circle cx="258.9" cy="661.3" r="3.7"/>
<circle cx="269" cy="667.5" r="3.7"/>
<circle cx="264.1" cy="714.6" r="3.7"/>
<text transform="translate(201.62,602.85) scale(0.918,1)" font-weight="bold" font-size="20.44" letter-spacing="1.9" class="h" style="stroke-width:0.35px">###</text>
<text transform="translate(200.75,624.25) scale(1.000,1)" font-size="18.44" letter-spacing="2.77" class="a">***</text>
<text transform="translate(259.53,618.95) scale(0.955,1)" font-weight="bold" font-size="19.41" letter-spacing="1.81" class="h" style="stroke-width:0.35px">###</text>
<text transform="translate(255.01,636.77) scale(1.000,1)" font-size="16.44" letter-spacing="3.91" class="a">***</text>
<line x1="394" y1="588.95" x2="394" y2="779.2" stroke="#000" stroke-width="2.1"/>
<line x1="392.95" y1="779.2" x2="680.8" y2="779.2" stroke="#000" stroke-width="2.1"/>
<line x1="388" y1="779.2" x2="394" y2="779.2" stroke="#000" stroke-width="2.1"/>
<text x="367" y="783.85" font-size="10.5" font-weight="bold" textLength="17.4" lengthAdjust="spacing" class="s">0.0</text>
<line x1="388" y1="716.13" x2="394" y2="716.13" stroke="#000" stroke-width="2.1"/>
<text x="367" y="720.78" font-size="10.5" font-weight="bold" textLength="17.4" lengthAdjust="spacing" class="s">0.2</text>
<line x1="388" y1="653.07" x2="394" y2="653.07" stroke="#000" stroke-width="2.1"/>
<text x="367" y="657.72" font-size="10.5" font-weight="bold" textLength="17.4" lengthAdjust="spacing" class="s">0.4</text>
<line x1="388" y1="590" x2="394" y2="590" stroke="#000" stroke-width="2.1"/>
<text x="367" y="594.65" font-size="10.5" font-weight="bold" textLength="17.4" lengthAdjust="spacing" class="s">0.6</text>
<line x1="438" y1="779.2" x2="438" y2="784.2" stroke="#000" stroke-width="2.1"/>
<text transform="translate(442.5,796.8) rotate(-45)" font-size="10.5" font-weight="bold" text-anchor="end" letter-spacing="2.1" class="s">C</text>
<line x1="504" y1="779.2" x2="504" y2="784.2" stroke="#000" stroke-width="2.1"/>
<text transform="translate(508.5,796.8) rotate(-45)" font-size="10.5" font-weight="bold" text-anchor="end" letter-spacing="2.1" class="s">SCR</text>
<line x1="570.1" y1="779.2" x2="570.1" y2="784.2" stroke="#000" stroke-width="2.1"/>
<text transform="translate(574.6,796.8) rotate(-45)" font-size="10.5" font-weight="bold" text-anchor="end" letter-spacing="2.1" class="s">SiNephrin</text>
<line x1="636.1" y1="779.2" x2="636.1" y2="784.2" stroke="#000" stroke-width="2.1"/>
<text transform="translate(640.6,796.8) rotate(-45)" font-size="10.5" font-weight="bold" text-anchor="end" letter-spacing="2.1" class="s">SiAPOL1</text>
<text transform="translate(359.1,743.8) rotate(-90)" font-size="12.2" font-weight="bold" textLength="115.3" lengthAdjust="spacing" class="s">Dendrin/GAPDH</text>
<line x1="415.8" x2="459.8" y1="672.5" y2="672.5" stroke="#000" stroke-width="2.8"/>
<line x1="481.9" x2="525.6" y1="672.5" y2="672.5" stroke="#000" stroke-width="2.8"/>
<line x1="547.9" x2="592.2" y1="691.4" y2="691.4" stroke="#000" stroke-width="2.8"/>
<line x1="614.5" x2="657.9" y1="703.6" y2="703.6" stroke="#000" stroke-width="2.8"/>
<circle cx="438.1" cy="608.9" r="4.1"/>
<circle cx="438.1" cy="640.8" r="4.1"/>
<circle cx="426.3" cy="669" r="4.1"/>
<circle cx="432.2" cy="672.5" r="4.1"/>
<circle cx="444" cy="665.6" r="4.1"/>
<circle cx="444" cy="681.8" r="4.1"/>
<circle cx="426.7" cy="700.5" r="4.1"/>
<circle cx="449.3" cy="703.5" r="4.1"/>
<circle cx="438.1" cy="710" r="4.1"/>
<circle cx="503.9" cy="653.2" r="4.1"/>
<circle cx="520.9" cy="662.7" r="4.1"/>
<circle cx="487.4" cy="669" r="4.1"/>
<circle cx="498.6" cy="672.5" r="4.1"/>
<circle cx="509.8" cy="672.5" r="4.1"/>
<circle cx="498.6" cy="687.7" r="4.1"/>
<circle cx="509.8" cy="687.7" r="4.1"/>
<circle cx="509.8" cy="700.5" r="4.1"/>
<circle cx="498.6" cy="710" r="4.1"/>
<circle cx="558.7" cy="672.1" r="4.1"/>
<circle cx="581.4" cy="669.1" r="4.1"/>
<circle cx="570" cy="678.6" r="4.1"/>
<circle cx="575.9" cy="687.8" r="4.1"/>
<circle cx="564" cy="691.4" r="4.1"/>
<circle cx="564" cy="703.6" r="4.1"/>
<circle cx="581.4" cy="703.6" r="4.1"/>
<circle cx="575.9" cy="713.1" r="4.1"/>
<circle cx="564" cy="716.6" r="4.1"/>
<circle cx="619.2" cy="685.1" r="4.1"/>
<circle cx="652.7" cy="687.8" r="4.1"/>
<circle cx="630.3" cy="691.4" r="4.1"/>
<circle cx="641.5" cy="694.3" r="4.1"/>
<circle cx="619.2" cy="703.6" r="4.1"/>
<circle cx="627.7" cy="710.1" r="4.1"/>
<circle cx="636.2" cy="713.5" r="4.1"/>
<circle cx="644.5" cy="713.5" r="4.1"/>
<circle cx="652.7" cy="710.1" r="4.1"/>
</svg>
</body></html>
